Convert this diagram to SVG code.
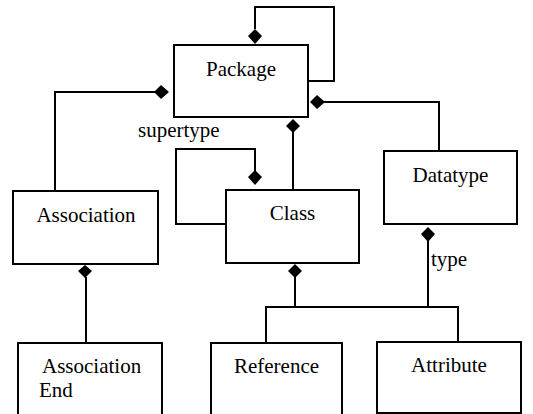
<svg xmlns="http://www.w3.org/2000/svg" width="533" height="414" viewBox="0 0 533 414">
<style>
.box{fill:#fff;stroke:#000;stroke-width:2}
.ln{fill:none;stroke:#000;stroke-width:2}
.dm{fill:#000;stroke:none}
.c{text-anchor:middle}
</style>
<rect width="533" height="414" fill="#fff"/>
<g id="connectors">
  <polyline class="ln" points="255,29 255,7 334,7 334,81 308,81"/>
  <polygon class="dm" points="255,29 262,36 255,44 248,36"/>
  <polyline class="ln" points="155,92 55,92 55,191"/>
  <polygon class="dm" points="154,92 161,85 169,92 161,99"/>
  <polyline class="ln" points="324,102 439,102 439,152"/>
  <polygon class="dm" points="310,102 317,95 325,102 317,109"/>
  <line class="ln" x1="293" y1="132" x2="293" y2="190"/>
  <polygon class="dm" points="293,119 300,126 293,133 286,126"/>
  <polyline class="ln" points="255,171 255,149 176,149 176,224 226,224"/>
  <polygon class="dm" points="255,170 262,177 255,185 248,177"/>
  <line class="ln" x1="86" y1="277" x2="86" y2="343"/>
  <polygon class="dm" points="85,265 92,271 85,278 78,271"/>
  <line class="ln" x1="295" y1="277" x2="295" y2="307"/>
  <polygon class="dm" points="295,264 302,271 295,278 288,271"/>
  <polyline class="ln" points="266,343 266,307 458,307 458,342"/>
  <line class="ln" x1="428" y1="241" x2="428" y2="307"/>
  <polygon class="dm" points="428,227 435,234 428,242 421,234"/>
</g>
<g font-family="Liberation Serif, serif" font-size="21" fill="#000">
<g id="package">
  <rect class="box" x="174" y="45" width="134" height="72"/>
  <text class="c" x="241" y="76">Package</text>
</g>
<g id="datatype">
  <rect class="box" x="384" y="151" width="133" height="73"/>
  <text class="c" x="450.5" y="182">Datatype</text>
</g>
<g id="class">
  <rect class="box" x="226" y="190" width="133" height="73"/>
  <text class="c" x="292.5" y="220">Class</text>
</g>
<g id="association">
  <rect class="box" x="13" y="191" width="145" height="73"/>
  <text class="c" x="86" y="222">Association</text>
</g>
<g id="association-end">
  <rect class="box" x="18" y="343" width="144" height="80"/>
  <text x="42" y="373">Association</text>
  <text x="39" y="397">End</text>
</g>
<g id="reference">
  <rect class="box" x="211" y="343" width="131" height="80"/>
  <text class="c" x="276.5" y="373">Reference</text>
</g>
<g id="attribute">
  <rect class="box" x="377" y="342" width="144" height="71"/>
  <text class="c" x="449" y="372">Attribute</text>
</g>
<g id="labels">
  <text x="138" y="137">supertype</text>
  <text x="431" y="266">type</text>
</g>
</g>
</svg>
